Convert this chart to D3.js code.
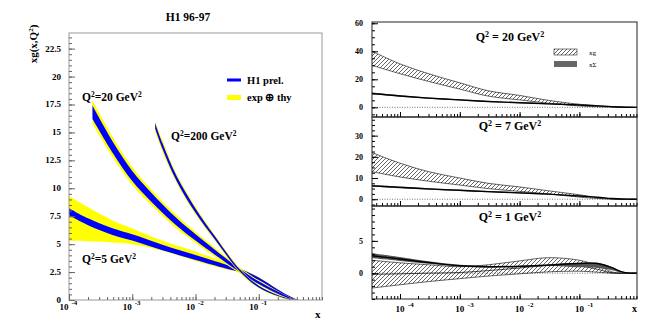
<!DOCTYPE html>
<html>
<head>
<meta charset="utf-8">
<script src="https://cdn.jsdelivr.net/npm/d3@7"></script>
<style>
body { margin: 0; background: #fff; }
text { font-family: "Liberation Serif", "Times New Roman", serif; font-weight: bold; fill: #000; }
</style>
</head>
<body>
<div id="chart"></div>
<script>
//------------------------1. DATA--------------------------------//
// left panel: xg(x,Q2) from H1 96-97, central value, blue half width, yellow limits
var q5X    = [1e-4, 2e-4, 5e-4, 1e-3, 3e-3, 1e-2, 3e-2, 5e-2, 0.1, 0.2, 0.3, 0.4];
var q5Mid  = [7.9, 7.0, 6.1, 5.6, 4.7, 3.8, 3.0, 2.65, 1.9, 0.85, 0.3, 0.02];
var q5Blue = [0.32, 0.31, 0.3, 0.28, 0.25, 0.22, 0.18, 0.15, 0.12, 0.1, 0.08, 0.02];
var q5Lo   = [5.3, 5.25, 5.15, 5.0, 4.4, 3.5, 2.75, 2.45, 1.75, 0.75, 0.22, 0];
var q5Hi   = [9.3, 8.3, 7.1, 6.4, 5.3, 4.35, 3.35, 2.85, 2.05, 0.95, 0.38, 0.05];

var q20X    = [2.35e-4, 5e-4, 1e-3, 2e-3, 5e-3, 1e-2, 2e-2, 5e-2, 0.1, 0.2, 0.3, 0.4];
var q20Mid  = [16.8, 13.6, 11.1, 9.2, 7.0, 5.6, 4.3, 2.65, 1.55, 0.65, 0.2, 0.01];
var q20Blue = [0.6, 0.5, 0.45, 0.4, 0.33, 0.28, 0.22, 0.15, 0.12, 0.1, 0.06, 0.01];
var q20Lo   = [15.8, 12.7, 10.3, 8.5, 6.4, 5.1, 3.9, 2.4, 1.35, 0.5, 0.12, 0];
var q20Hi   = [17.9, 14.5, 11.9, 9.9, 7.6, 6.1, 4.7, 2.9, 1.75, 0.8, 0.28, 0.03];

var q200X    = [2.3e-3, 3e-3, 5e-3, 1e-2, 2e-2, 5e-2, 0.1, 0.2, 0.3, 0.4];
var q200Mid  = [15.6, 13.8, 10.9, 8.0, 5.6, 2.65, 1.2, 0.4, 0.1, 0.0];
var q200Blue = [0.25, 0.25, 0.22, 0.2, 0.15, 0.1, 0.08, 0.05, 0.03, 0.01];
var q200Lo   = [15.1, 13.3, 10.5, 7.65, 5.35, 2.45, 1.05, 0.3, 0.05, 0];
var q200Hi   = [16.0, 14.3, 11.3, 8.35, 5.85, 2.85, 1.3, 0.48, 0.15, 0.02];

var leftYTicks = [0, 2.5, 5, 7.5, 10, 12.5, 15, 17.5, 20, 22.5];
var leftYLabels = ["0", "2.5", "5", "7.5", "10", "12.5", "15", "17.5", "20", "22.5"];
var decades = [1e-4, 1e-3, 1e-2, 1e-1];
var decadeExp = ["-4", "-3", "-2", "-1"];

// right panels: xg band (hatched) and xSigma band (dark) at Q2 = 20, 7, 1
var rX = [3.4e-5, 1e-4, 3e-4, 1e-3, 3e-3, 1e-2, 3e-2, 0.1, 0.2, 0.35, 0.5, 0.7, 0.92];

var g20Lo = [30, 24, 18.5, 13, 8.0, 5.3, 3.0, 1.0, 0.4, 0.1, 0, 0, 0];
var g20Hi = [40, 31, 24, 17.5, 11.8, 8.5, 5.0, 2.2, 1.2, 0.5, 0.15, 0, 0];
var s20Lo = [9.3, 7.6, 6.1, 4.9, 3.8, 3.0, 2.2, 1.4, 0.85, 0.4, 0.15, 0.02, 0];
var s20Mid = [9.9, 8.1, 6.6, 5.3, 4.2, 3.3, 2.5, 1.7, 1.05, 0.5, 0.2, 0.03, 0];
var s20Hi = [10.5, 8.6, 7.0, 5.7, 4.5, 3.6, 2.8, 1.95, 1.2, 0.6, 0.25, 0.04, 0];

var g7Lo = [13, 10.5, 8.5, 6.7, 5.0, 3.7, 2.5, 1.0, 0.35, 0.05, 0, 0, 0];
var g7Hi = [22, 17, 13, 10, 7.5, 5.8, 4.0, 2.1, 0.8, 0.15, 0, 0, 0];
var s7Lo = [5.9, 5.2, 4.5, 3.9, 3.3, 2.75, 2.2, 1.35, 0.8, 0.3, 0.08, 0.01, 0];
var s7Mid = [6.3, 5.6, 4.9, 4.2, 3.6, 3.0, 2.4, 1.5, 0.9, 0.35, 0.1, 0.02, 0];
var s7Hi = [6.7, 6.0, 5.2, 4.5, 3.9, 3.25, 2.6, 1.65, 1.0, 0.42, 0.13, 0.03, 0];

var g1Lo  = [-2.3, -1.8, -1.3, -0.85, -0.45, -0.1, 0.2, 0.3, 0.15, 0, 0, 0, 0];
var g1Mid = [-0.2, -0.1, 0.0, 0.1, 0.4, 0.8, 1.2, 1.1, 0.6, 0.05, 0, 0, 0];
var g1Hi  = [2.0, 1.6, 1.3, 1.0, 1.3, 1.9, 2.4, 2.0, 1.2, 0.2, 0, 0, 0];
var s1Lo  = [2.3, 1.9, 1.45, 1.0, 0.88, 0.93, 1.1, 0.9, 0.8, 0.45, 0.1, 0, 0];
var s1Mid = [2.7, 2.2, 1.65, 1.15, 1.0, 1.05, 1.25, 1.5, 1.5, 0.85, 0.25, 0, 0];
var s1Hi  = [3.1, 2.5, 1.85, 1.3, 1.12, 1.17, 1.4, 1.6, 1.6, 0.95, 0.3, 0, 0];

var rightTitles = ["20 GeV", " 7 GeV", " 1 GeV"];

//------------------------2. SVG---------------------------------//
const width = 654;
const height = 327;
const curve = d3.curveCatmullRom.alpha(0.5);
const svg = d3.select("#chart").append("svg")
    .attr("width", width)
    .attr("height", height);

svg.append("defs").append("pattern")
    .attr("id", "hatch")
    .attr("patternUnits", "userSpaceOnUse")
    .attr("width", 4).attr("height", 4)
    .append("path")
    .attr("d", "M-1,1 l2,-2 M0,4 l4,-4 M3,5 l2,-2")
    .attr("stroke", "#000")
    .attr("stroke-width", 0.6);

function rows(xs, cols) {
    return xs.map(function(x, i) {
        var r = {x: x};
        for (var k in cols) r[k] = cols[k][i];
        return r;
    });
}

// "10" with a raised exponent
function powerLabel(g, x, y, exp, anchorRight, size) {
    var t = g.append("text").attr("y", y).style("font-size", size + "px");
    if (anchorRight) {
        t.attr("x", x).attr("text-anchor", "end").text("10");
        g.append("text").attr("x", x + 3).attr("y", y - 5)
            .style("font-size", (size - 2) + "px").text(exp);
    } else {
        t.attr("x", x).attr("text-anchor", "middle").text("10");
        g.append("text").attr("x", x + 8).attr("y", y - 5)
            .style("font-size", (size - 2) + "px").text(exp);
    }
}

function logMinor(scale) {
    return scale.ticks().filter(function(v) {
        var d = scale.domain();
        return v >= d[0] && v <= d[1];
    });
}

//------------------------3. LEFT PANEL--------------------------//
const L = {x0: 69, x1: 322, y0: 33, y1: 300};
var lx = d3.scaleLog().domain([1e-4, 1]).range([L.x0, L.x1]);
var ly = d3.scaleLinear().domain([0, 23.9]).range([L.y1, L.y0]);
var left = svg.append("g");

function drawLeftBand(xs, mid, blue, lo, hi) {
    var d = rows(xs, {mid: mid, blue: blue, lo: lo, hi: hi});
    left.append("path")
        .attr("fill", "#ffff00")
        .attr("d", d3.area().curve(curve)
            .x(function(p) { return lx(p.x); })
            .y0(function(p) { return ly(p.lo); })
            .y1(function(p) { return ly(p.hi); })(d));
    left.append("path")
        .attr("fill", "#0000ff")
        .attr("d", d3.area().curve(curve)
            .x(function(p) { return lx(p.x); })
            .y0(function(p) { return ly(p.mid - p.blue); })
            .y1(function(p) { return ly(p.mid + p.blue); })(d));
}
drawLeftBand(q5X, q5Mid, q5Blue, q5Lo, q5Hi);
drawLeftBand(q20X, q20Mid, q20Blue, q20Lo, q20Hi);
drawLeftBand(q200X, q200Mid, q200Blue, q200Lo, q200Hi);

left.append("rect")
    .attr("x", L.x0).attr("y", L.y0)
    .attr("width", L.x1 - L.x0).attr("height", L.y1 - L.y0)
    .attr("fill", "none").attr("stroke", "#999").attr("stroke-width", 1);

// y ticks
left.append("g").attr("transform", "translate(" + L.x0 + ",0)")
    .call(d3.axisRight(ly).tickValues(d3.range(0, 23.6, 0.5)).tickSize(3).tickFormat(""))
    .call(function(g) { g.select(".domain").remove(); g.selectAll("line").attr("stroke", "#666"); });
left.append("g").attr("transform", "translate(" + L.x0 + ",0)")
    .call(d3.axisRight(ly).tickValues(leftYTicks).tickSize(6).tickFormat(""))
    .call(function(g) { g.select(".domain").remove(); g.selectAll("line").attr("stroke", "#666"); });
leftYTicks.forEach(function(v, i) {
    left.append("text").attr("x", L.x0 - 8).attr("y", ly(v) + 3)
        .attr("text-anchor", "end").style("font-size", "9px").text(leftYLabels[i]);
});

// x ticks
left.append("g").attr("transform", "translate(0," + L.y1 + ")")
    .call(d3.axisTop(lx).tickValues(logMinor(lx)).tickSize(3).tickFormat(""))
    .call(function(g) { g.select(".domain").remove(); g.selectAll("line").attr("stroke", "#666"); });
left.append("g").attr("transform", "translate(0," + L.y1 + ")")
    .call(d3.axisTop(lx).tickValues(decades).tickSize(6).tickFormat(""))
    .call(function(g) { g.select(".domain").remove(); g.selectAll("line").attr("stroke", "#666"); });
decades.forEach(function(v, i) {
    powerLabel(left, lx(v) - 0.5, 310, decadeExp[i], true, 9);
});
left.append("text").attr("x", 315).attr("y", 318).style("font-size", "11px").text("x");

left.append("text").attr("x", 188).attr("y", 21).attr("text-anchor", "middle")
    .style("font-size", "11.5px").text("H1 96-97");

var yt = left.append("text").attr("transform", "translate(37,44) rotate(-90)")
    .attr("text-anchor", "middle").style("font-size", "11px");
yt.append("tspan").text("xg(x,Q");
yt.append("tspan").attr("dy", -4).style("font-size", "7px").text("2");
yt.append("tspan").attr("dy", 4).text(")");

// curve labels
function qLabel(g, x, y, pre, post, size) {
    var t = g.append("text").attr("x", x).attr("y", y).style("font-size", size + "px");
    t.append("tspan").text(pre);
    t.append("tspan").attr("dy", -4).style("font-size", (size - 4) + "px").text("2");
    t.append("tspan").attr("dy", 4).text(post);
    t.append("tspan").attr("dy", -4).style("font-size", (size - 4) + "px").text("2");
    return t;
}
qLabel(left, 82, 101, "Q", "=20 GeV", 11.5);
qLabel(left, 171, 140, "Q", "=200 GeV", 11.5);
qLabel(left, 82, 263, "Q", "=5 GeV", 11.5);

// legend
left.append("line").attr("x1", 227).attr("x2", 241).attr("y1", 80).attr("y2", 80)
    .attr("stroke", "#0000ff").attr("stroke-width", 3);
left.append("text").attr("x", 247).attr("y", 84).style("font-size", "10.5px").text("H1 prel.");
left.append("rect").attr("x", 227).attr("y", 95).attr("width", 14).attr("height", 5)
    .attr("fill", "#ffff00");
left.append("text").attr("x", 247).attr("y", 101).style("font-size", "10.5px").text("exp \u2295 thy");

//------------------------4. RIGHT PANELS------------------------//
var rx = d3.scaleLog().domain([3.4e-5, 0.92]).range([372, 637]);
var panels = [
    {y0: 22, y1: 117, dom: [-6.9, 60.9], major: [0, 20, 40, 60], minorStep: 5, labY: 41,
     gLo: g20Lo, gHi: g20Hi, gMid: null, sLo: s20Lo, sMid: s20Mid, sHi: s20Hi},
    {y0: 117, y1: 206, dom: [-3.2, 38.8], major: [0, 10, 20, 30], minorStep: 2.5, labY: 130,
     gLo: g7Lo, gHi: g7Hi, gMid: null, sLo: s7Lo, sMid: s7Mid, sHi: s7Hi},
    {y0: 206, y1: 299, dom: [-4, 10.4], major: [0, 5], minorStep: 1, labY: 221,
     gLo: g1Lo, gHi: g1Hi, gMid: g1Mid, sLo: s1Lo, sMid: s1Mid, sHi: s1Hi}
];

panels.forEach(function(p, i) {
    var g = svg.append("g");
    var y = d3.scaleLinear().domain(p.dom).range([p.y1, p.y0]);
    var clipId = "clip" + i;
    svg.select("defs").append("clipPath").attr("id", clipId)
        .append("rect").attr("x", 372).attr("y", p.y0).attr("width", 265).attr("height", p.y1 - p.y0);
    var plot = g.append("g").attr("clip-path", "url(#" + clipId + ")");

    // zero line
    plot.append("line").attr("x1", rx.range()[0]).attr("x2", rx.range()[1])
        .attr("y1", y(0)).attr("y2", y(0))
        .attr("stroke", "#555").attr("stroke-width", 0.8).attr("stroke-dasharray", "1,1.5");

    var d = rows(rX, {gLo: p.gLo, gHi: p.gHi, sLo: p.sLo, sMid: p.sMid, sHi: p.sHi,
                      gMid: p.gMid || p.gLo});
    var area = function(a, b) {
        return d3.area().curve(curve)
            .x(function(q) { return rx(q.x); })
            .y0(function(q) { return y(q[a]); })
            .y1(function(q) { return y(q[b]); });
    };
    var line = function(a) {
        return d3.line().curve(curve)
            .x(function(q) { return rx(q.x); })
            .y(function(q) { return y(q[a]); });
    };
    plot.append("path").attr("fill", "url(#hatch)").attr("d", area("gLo", "gHi")(d));
    ["gLo", "gHi"].forEach(function(k) {
        plot.append("path").attr("fill", "none").attr("stroke", "#000").attr("stroke-width", 0.6)
            .attr("d", line(k)(d));
    });
    if (p.gMid) {
        plot.append("path").attr("fill", "none").attr("stroke", "#000").attr("stroke-width", 0.7)
            .attr("d", line("gMid")(d));
    }
    plot.append("path").attr("fill", "#555").attr("d", area("sLo", "sHi")(d));
    plot.append("path").attr("fill", "none").attr("stroke", "#000").attr("stroke-width", 1.4)
        .attr("d", line("sMid")(d));

    g.append("rect").attr("x", 372).attr("y", p.y0).attr("width", 265).attr("height", p.y1 - p.y0)
        .attr("fill", "none").attr("stroke", "#222").attr("stroke-width", 1);

    // y ticks and labels
    var minor = d3.range(Math.ceil(p.dom[0] / p.minorStep) * p.minorStep, p.dom[1], p.minorStep);
    g.append("g").attr("transform", "translate(372,0)")
        .call(d3.axisRight(y).tickValues(minor).tickSize(3).tickFormat(""))
        .call(function(a) { a.select(".domain").remove(); });
    g.append("g").attr("transform", "translate(372,0)")
        .call(d3.axisRight(y).tickValues(p.major).tickSize(6).tickFormat(""))
        .call(function(a) { a.select(".domain").remove(); });
    p.major.forEach(function(v) {
        g.append("text").attr("x", 363).attr("y", y(v) + 3).attr("text-anchor", "end")
            .style("font-size", "8px").text(v);
    });

    // x ticks
    g.append("g").attr("transform", "translate(0," + p.y1 + ")")
        .call(d3.axisTop(rx).tickValues(logMinor(rx)).tickSize(3).tickFormat(""))
        .call(function(a) { a.select(".domain").remove(); });
    g.append("g").attr("transform", "translate(0," + p.y1 + ")")
        .call(d3.axisTop(rx).tickValues(decades).tickSize(5).tickFormat(""))
        .call(function(a) { a.select(".domain").remove(); });

    qLabel(g, 510, p.labY, "Q", " = " + rightTitles[i], 12).attr("text-anchor", "middle");
});

decades.forEach(function(v, i) {
    powerLabel(svg, rx(v), 312, decadeExp[i], false, 9);
});
svg.append("text").attr("x", 632).attr("y", 312).style("font-size", "10px").text("x");

// legend
svg.append("rect").attr("x", 554).attr("y", 49).attr("width", 23).attr("height", 6)
    .attr("fill", "url(#hatch)").attr("stroke", "#000").attr("stroke-width", 0.5);
svg.append("text").attr("x", 589).attr("y", 55).style("font-size", "7px")
    .style("font-weight", "normal").text("xg");
svg.append("rect").attr("x", 554).attr("y", 61).attr("width", 23).attr("height", 6)
    .attr("fill", "#666");
svg.append("text").attr("x", 589).attr("y", 67).style("font-size", "7px")
    .style("font-weight", "normal").text("x\u03a3");
</script>
</body>
</html>
